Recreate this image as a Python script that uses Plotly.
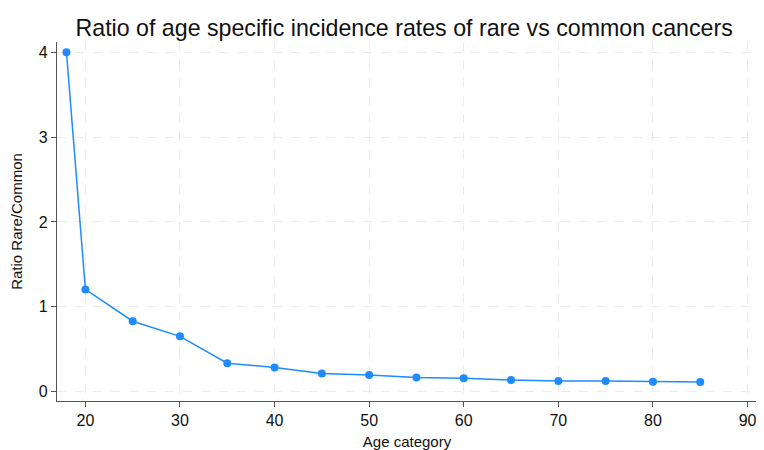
import plotly.graph_objects as go

age = [18, 20, 25, 30, 35, 40, 45, 50, 55, 60, 65, 70, 75, 80, 85]
ratio = [4.0, 1.205, 0.83, 0.652, 0.336, 0.285, 0.215, 0.195, 0.166, 0.158, 0.138, 0.127, 0.126, 0.118, 0.113]
x_ticks = [20, 30, 40, 50, 60, 70, 80, 90]
y_ticks = [0, 1, 2, 3, 4]

color = "#1e8cff"
fig = go.Figure(go.Scatter(
    x=age, y=ratio, mode="lines+markers",
    line=dict(color=color, width=1.5),
    marker=dict(color=color, size=8),
    cliponaxis=False,
))

axis_common = dict(
    showline=True, linecolor="#555555", linewidth=1.3,
    ticks="outside", ticklen=5, tickcolor="#555555",
    showgrid=True, gridcolor="#ececec", griddash="dash", gridwidth=1,
    zeroline=False, tickfont=dict(size=16, color="#111111"),
    mirror=False, automargin=False, ticklabeloverflow="allow",
)

W, H = 756, 442
fig.update_layout(
    width=W, height=H,
    margin=dict(l=49, r=7, t=34, b=49),
    paper_bgcolor="white", plot_bgcolor="white",
    font=dict(family="Liberation Sans, Arial, sans-serif", color="#111111"),
    title=dict(text="Ratio of age specific incidence rates of rare vs common cancers",
               x=0.524, xanchor="center", y=1 - 20 / H, yanchor="middle",
               font=dict(size=23.2, color="#111111")),
    showlegend=False,
    xaxis=dict(range=[17.0, 91.0], tickvals=x_ticks,
               title=dict(text="Age category", font=dict(size=15)),
               **axis_common),
    yaxis=dict(range=[-0.11, 4.12], tickvals=y_ticks,
               title=dict(text="Ratio Rare/Common", font=dict(size=15)),
               **axis_common),
)

fig.write_html("out.html")
